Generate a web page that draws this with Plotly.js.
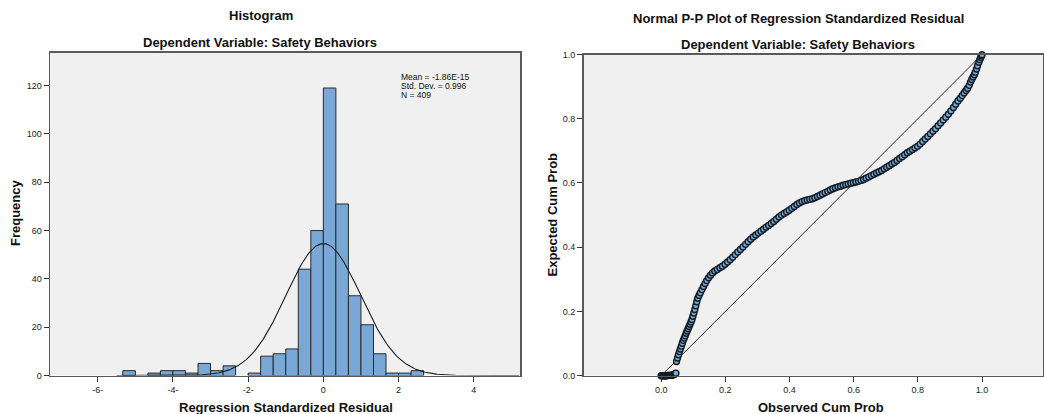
<!DOCTYPE html>
<html>
<head>
<meta charset="utf-8">
<script src="https://cdn.plot.ly/plotly-3.0.1.min.js"></script>
<style>html,body{margin:0;padding:0;background:#fff;}#chart{width:1044px;height:414px;}</style>
</head>
<body>
<div id="chart"></div>
<script>
// ---------- Histogram data (bins of width 1/3, start value of each bin) ----------
const binStarts = [-5.333, -4.667, -4.333, -4.0, -3.667, -3.333, -3.0, -2.667, -2.0, -1.667, -1.333, -1.0,
                   -0.667, -0.333, 0.0, 0.333, 0.667, 1.0, 1.333, 1.667, 2.0, 2.333];
const binCounts = [2, 1, 2, 2, 1, 5, 2, 4, 1, 8, 9, 11, 44, 60, 119, 71, 33, 21, 9, 1, 1, 2];
const binWidth = 1 / 3;
const histTickVals = [-6, -4, -2, 0, 2, 4];
const histTickText = ['-6-', '-4-', '-2-', '0', '2', '4'];
const freqTickVals = [0, 20, 40, 60, 80, 100, 120];

// ---------- Summary statistics shown on the chart ----------
const statMean = -1.86e-15;
const statSD = 0.996;
const statN = 409;

// ---------- Normal P-P plot points (observed cum prob, expected cum prob) ----------
const ppObserved = [0.0, 0.0025, 0.005, 0.0075, 0.01, 0.0125, 0.015, 0.0175, 0.02, 0.0225, 0.025, 0.0275, 0.03, 0.0325,
  0.035, 0.038, 0.041, 0.044, 0.046,
  0.048, 0.051, 0.054, 0.057, 0.06, 0.063, 0.066, 0.069, 0.072, 0.075, 0.078, 0.081, 0.084, 0.087, 0.09,
  0.093, 0.096, 0.099, 0.102, 0.105, 0.108, 0.111, 0.114, 0.118, 0.122, 0.127, 0.132, 0.137, 0.142, 0.148,
  0.154, 0.16, 0.167, 0.175, 0.183, 0.191, 0.199, 0.207, 0.215, 0.223, 0.231, 0.239, 0.247, 0.255, 0.263,
  0.271, 0.279, 0.287, 0.295, 0.303, 0.311, 0.319, 0.327, 0.335, 0.343, 0.351, 0.359, 0.367, 0.375, 0.383,
  0.391, 0.399, 0.407, 0.415, 0.423, 0.431, 0.439, 0.447, 0.455, 0.463, 0.471, 0.479, 0.487, 0.495, 0.503,
  0.511, 0.519, 0.527, 0.535, 0.543, 0.551, 0.559, 0.567, 0.575, 0.583, 0.591, 0.599, 0.607, 0.615, 0.623,
  0.631, 0.639, 0.647, 0.655, 0.663, 0.671, 0.679, 0.687, 0.695, 0.703, 0.711, 0.719, 0.727, 0.735, 0.743,
  0.751, 0.759, 0.767, 0.775, 0.783, 0.791, 0.799, 0.807, 0.815, 0.823, 0.831, 0.839, 0.847, 0.855, 0.863,
  0.871, 0.879, 0.887, 0.895, 0.903, 0.911, 0.918, 0.925, 0.932, 0.938, 0.944, 0.95, 0.955, 0.96, 0.964,
  0.968, 0.972, 0.976, 0.979, 0.983, 0.986, 0.99, 0.993, 0.996, 0.998, 1.0];
const ppExpected = [0.0, 0.0, 0.0, 0.0, 0.0, 0.0, 0.0, 0.0, 0.001, 0.001, 0.001, 0.001, 0.001, 0.001,
  0.002, 0.003, 0.004, 0.006, 0.008,
  0.044, 0.055, 0.065, 0.075, 0.083, 0.092, 0.101, 0.11, 0.117, 0.124, 0.132, 0.139, 0.146, 0.153, 0.16,
  0.167, 0.175, 0.185, 0.195, 0.206, 0.218, 0.23, 0.241, 0.25, 0.258, 0.268, 0.278, 0.287, 0.296, 0.305,
  0.313, 0.32, 0.326, 0.331, 0.336, 0.341, 0.347, 0.354, 0.361, 0.369, 0.377, 0.385, 0.393, 0.401, 0.409,
  0.417, 0.425, 0.432, 0.438, 0.444, 0.45, 0.456, 0.462, 0.468, 0.474, 0.48, 0.487, 0.494, 0.5, 0.505,
  0.51, 0.515, 0.521, 0.527, 0.533, 0.538, 0.542, 0.545, 0.547, 0.549, 0.551, 0.554, 0.558, 0.562, 0.566,
  0.57, 0.574, 0.578, 0.582, 0.585, 0.588, 0.59, 0.593, 0.595, 0.597, 0.599, 0.601, 0.603, 0.605, 0.608,
  0.611, 0.615, 0.619, 0.623, 0.627, 0.631, 0.635, 0.639, 0.644, 0.649, 0.654, 0.659, 0.664, 0.67, 0.676,
  0.682, 0.688, 0.694, 0.699, 0.704, 0.709, 0.714, 0.721, 0.729, 0.737, 0.745, 0.753, 0.761, 0.769, 0.778,
  0.787, 0.796, 0.805, 0.814, 0.824, 0.835, 0.845, 0.855, 0.864, 0.872, 0.88, 0.888, 0.895, 0.904, 0.914,
  0.922, 0.93, 0.937, 0.945, 0.955, 0.965, 0.976, 0.984, 0.991, 0.996, 0.999];
const refLineX = [0, 1];
const refLineY = [0, 1];
const ppTickVals = [0, 0.2, 0.4, 0.6, 0.8, 1.0];
const ppTickText = ['0.0', '0.2', '0.4', '0.6', '0.8', '1.0'];

// ---------- Normal curve from the stated mean / SD / N ----------
const curveX = [], curveY = [];
const peak = statN * binWidth / (statSD * Math.sqrt(2 * Math.PI));
for (let i = 0; i <= 400; i++) {
  const x = -5.5 + i * (10.7 / 400);
  const z = (x - statMean) / statSD;
  curveX.push(x);
  curveY.push(peak * Math.exp(-0.5 * z * z));
}

const FONT = 'Liberation Sans, Arial, sans-serif';
const W = 1044, H = 414;
const px = v => v / W;
const py = v => 1 - v / H;

const traces = [
  {
    type: 'bar', x: binStarts, y: binCounts, width: binWidth, offset: 0,
    marker: { color: '#7aa8d6', line: { color: '#2a2a2a', width: 1 } },
    xaxis: 'x', yaxis: 'y', hoverinfo: 'x+y'
  },
  {
    type: 'scatter', mode: 'lines', x: curveX, y: curveY,
    line: { color: '#1e1e1e', width: 1.1 }, xaxis: 'x', yaxis: 'y', hoverinfo: 'skip'
  },
  {
    type: 'scatter', mode: 'lines', x: refLineX, y: refLineY,
    line: { color: '#2a2a2a', width: 1 }, xaxis: 'x2', yaxis: 'y2', hoverinfo: 'skip'
  },
  {
    type: 'scatter', mode: 'markers', x: ppObserved, y: ppExpected,
    marker: { size: 6, color: '#78acd9', line: { color: '#141c24', width: 1.4 } },
    xaxis: 'x2', yaxis: 'y2', cliponaxis: false
  }
];

const axisCommon = {
  showgrid: false, zeroline: false, showline: true, mirror: true,
  linecolor: '#5a5a5a', linewidth: 1.5,
  ticks: 'outside', ticklen: 5, tickwidth: 1, tickcolor: '#333',
  tickfont: { family: FONT, size: 9, color: '#222' }, fixedrange: true
};

const layout = {
  width: W, height: H,
  margin: { l: 0, r: 0, t: 0, b: 0 },
  paper_bgcolor: '#ffffff', plot_bgcolor: '#f0f0f0',
  showlegend: false,
  xaxis: Object.assign({}, axisCommon, {
    domain: [px(50), px(520)], range: [-7.27, 5.23], anchor: 'y',
    tickmode: 'array', tickvals: histTickVals, ticktext: histTickText
  }),
  yaxis: Object.assign({}, axisCommon, {
    domain: [1 - 375.5 / H, 1 - 52.5 / H], range: [0, 133.7], anchor: 'x',
    tickmode: 'array', tickvals: freqTickVals
  }),
  xaxis2: Object.assign({}, axisCommon, {
    domain: [px(583.5), px(1043)], range: [-0.242, 1.19], anchor: 'y2',
    tickmode: 'array', tickvals: ppTickVals, ticktext: ppTickText
  }),
  yaxis2: Object.assign({}, axisCommon, {
    domain: [1 - 375.7 / H, 1 - 54.5 / H], range: [0, 1], anchor: 'x2',
    tickmode: 'array', tickvals: ppTickVals, ticktext: ppTickText
  }),
  annotations: [
    { text: '<b>Histogram</b>', x: px(260.5), y: py(15.5) },
    { text: '<b>Dependent Variable: Safety Behaviors</b>', x: px(260), y: py(42) },
    { text: '<b>Normal P-P Plot of Regression Standardized Residual</b>', x: px(798.5), y: py(18.5) },
    { text: '<b>Dependent Variable: Safety Behaviors</b>', x: px(798), y: py(44) },
    { text: '<b>Regression Standardized Residual</b>', x: px(285.5), y: py(407) },
    { text: '<b>Observed Cum Prob</b>', x: px(821), y: py(407) },
    { text: '<b>Frequency</b>', x: px(16), y: py(213), textangle: -90 },
    { text: '<b>Expected Cum Prob</b>', x: px(551.5), y: py(215), textangle: -90 },
    { text: 'Mean = -1.86E-15', x: px(399), y: py(77.5), xanchor: 'left', font: { family: FONT, size: 8.5, color: '#111' } },
    { text: 'Std. Dev. = 0.996', x: px(399), y: py(86), xanchor: 'left', font: { family: FONT, size: 8.5, color: '#111' } },
    { text: 'N = 409', x: px(399), y: py(94.5), xanchor: 'left', font: { family: FONT, size: 8.5, color: '#111' } }
  ].map(a => Object.assign({
    xref: 'paper', yref: 'paper', showarrow: false, xanchor: 'center', yanchor: 'middle',
    font: { family: FONT, size: 13, color: '#111' }
  }, a))
};

Plotly.newPlot('chart', traces, layout, { displayModeBar: false, staticPlot: true });
</script>
</body>
</html>
